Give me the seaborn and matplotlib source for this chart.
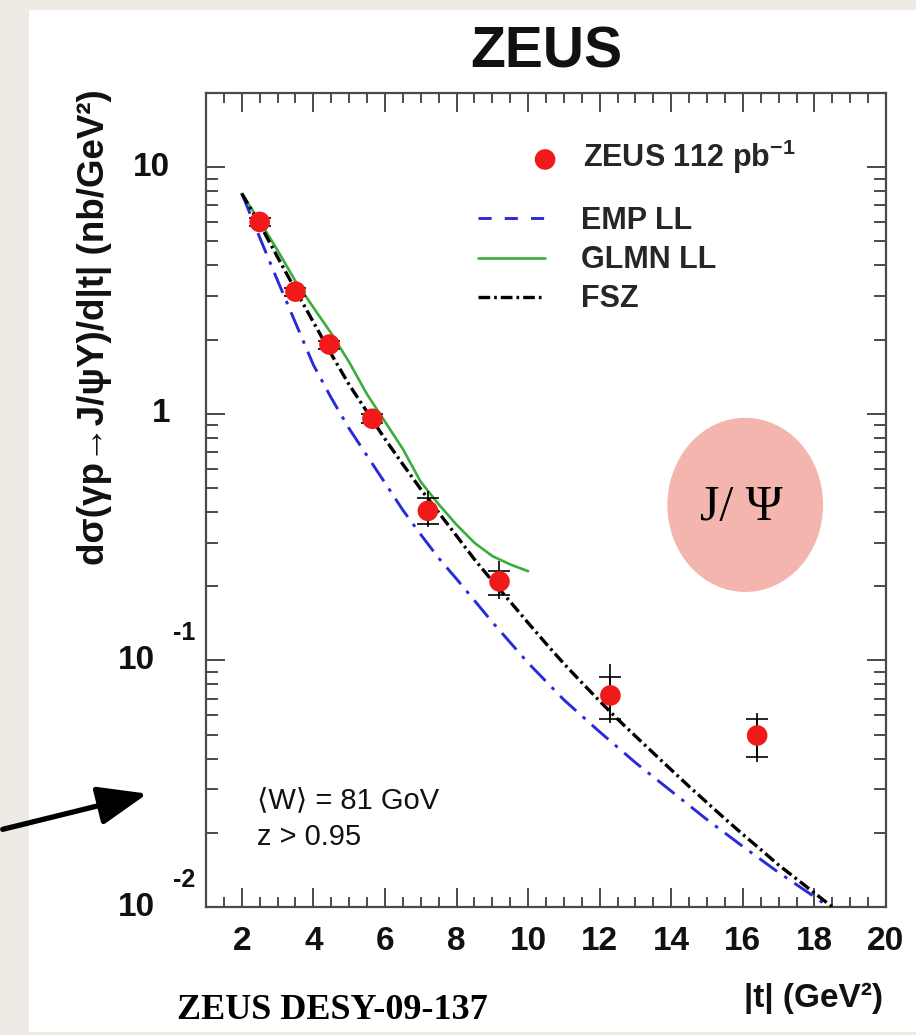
import numpy as np
import matplotlib
matplotlib.use("Agg")
import matplotlib.pyplot as plt
import seaborn as sns
from matplotlib.patches import Ellipse, Rectangle, FancyArrowPatch
from matplotlib.lines import Line2D
from matplotlib.ticker import MultipleLocator, LogLocator, NullFormatter
import matplotlib.transforms as mtransforms

# ---------------- data ----------------
t_data = [2.5, 3.5, 4.45, 5.65, 7.2, 9.2, 12.3, 16.4]
xsec_data = [6.0, 3.13, 1.91, 0.955, 0.404, 0.209, 0.0721, 0.0496]
stat_lo = [0.24, 0.12, 0.07, 0.04, 0.047, 0.024, 0.014, 0.0092]
stat_hi = [0.24, 0.12, 0.07, 0.04, 0.052, 0.021, 0.0132, 0.0085]
tot_lo = [0.36, 0.19, 0.11, 0.06, 0.057, 0.031, 0.0166, 0.0108]
tot_hi = [0.36, 0.19, 0.11, 0.06, 0.082, 0.043, 0.0243, 0.0114]

emp_t = [2.0, 2.5, 3.0, 3.5, 4.0, 4.5, 5.0, 5.5, 6.0, 6.5, 7.0, 7.5, 8.0,
         9.0, 10.0, 11.0, 12.0, 13.0, 14.0, 15.0, 16.0, 17.0, 18.0, 18.5]
emp_xsec = [7.83, 5.19, 3.47, 2.34, 1.58, 1.16, 0.871, 0.676, 0.525, 0.407,
            0.324, 0.260, 0.214, 0.143, 0.0977, 0.0692, 0.0513, 0.0385,
            0.0295, 0.0226, 0.0176, 0.0138, 0.0110, 0.00977]

glmn_t = [2.0, 2.5, 3.0, 3.5, 4.0, 4.5, 5.0, 5.5, 6.0, 6.5, 7.0, 7.5, 8.0,
          8.5, 9.0, 9.5, 10.0]
glmn_xsec = [7.8, 6.05, 4.6, 3.45, 2.7, 2.12, 1.62, 1.2, 0.93, 0.72, 0.53,
             0.43, 0.355, 0.30, 0.265, 0.245, 0.23]

fsz_t = [2.0, 2.5, 3.0, 3.5, 4.0, 4.5, 5.0, 5.5, 6.0, 6.5, 7.0, 7.5, 8.0,
         8.5, 9.0, 9.5, 10.0, 10.5, 11.0, 11.5, 12.0, 12.5, 13.0, 13.5,
         14.0, 14.5, 15.0, 15.5, 16.0, 16.5, 17.0, 17.5, 18.0, 18.5]
fsz_xsec = [7.83, 5.89, 4.32, 3.18, 2.355, 1.746, 1.312, 1.018, 0.791, 0.624,
            0.495, 0.398, 0.320, 0.257, 0.210, 0.173, 0.142, 0.117, 0.0970,
            0.0813, 0.0684, 0.0578, 0.0493, 0.0421, 0.0360, 0.0308, 0.0265,
            0.0228, 0.0197, 0.0171, 0.0148, 0.0130, 0.0114, 0.0100]

xticks = [2, 4, 6, 8, 10, 12, 14, 16, 18, 20]
ytick_vals = [0.01, 0.1, 1, 10]
ytick_base = ["10", "10", "1", "10"]
ytick_exp = ["-2", "-1", "", ""]

legend_labels = ["ZEUS 112 pb$^{-1}$", "EMP LL", "GLMN LL", "FSZ"]

# ---------------- style ----------------
sns.set_theme(style="ticks")
plt.rcParams['font.family'] = ['Liberation Sans', 'DejaVu Sans']
plt.rcParams['mathtext.fontset'] = 'custom'
plt.rcParams['mathtext.rm'] = 'Liberation Sans:bold'
plt.rcParams['mathtext.bf'] = 'Liberation Sans:bold'
plt.rcParams['mathtext.it'] = 'Liberation Sans:bold'

W, H = 916, 1035
fig = plt.figure(figsize=(W / 100, H / 100), dpi=100, facecolor='#eeeae4')
fig.add_artist(Rectangle((29 / W, 1 - 1032 / H), 1 - 29 / W, (1032 - 10) / H,
                         transform=fig.transFigure, facecolor='white',
                         edgecolor='none', zorder=0))

ax = fig.add_axes([206 / W, 1 - 907 / H, 680 / W, 814 / H])
ax.set_yscale('log')
ax.set_xlim(1, 20)
ax.set_ylim(0.01, 20)

blue = '#2a2ad8'
green = '#3aad3a'
red = '#f01a1a'

sns.lineplot(x=emp_t, y=emp_xsec, ax=ax, color=blue, linewidth=2.1,
             linestyle=(0, (7.5, 3, 1.2, 3)), zorder=2)
sns.lineplot(x=glmn_t, y=glmn_xsec, ax=ax, color=green, linewidth=1.9,
             linestyle='-', zorder=2)
sns.lineplot(x=fsz_t, y=fsz_xsec, ax=ax, color='black', linewidth=2.4,
             linestyle=(0, (3.5, 1.2, 0.8, 1.2)), zorder=3)
emp_line, glmn_line, fsz_line = ax.lines[0], ax.lines[1], ax.lines[2]

ax.errorbar(t_data, xsec_data, yerr=[tot_lo, tot_hi], fmt='none',
            ecolor='black', elinewidth=1.2, capsize=0, zorder=4)
ax.errorbar(t_data, xsec_data, yerr=[stat_lo, stat_hi], fmt='none',
            ecolor='black', elinewidth=1.2, capsize=8, capthick=1.2, zorder=4)
sns.scatterplot(x=t_data, y=xsec_data, ax=ax, color=red, s=220,
                edgecolor='none', linewidth=0, zorder=5, legend=False)
zeus_pts = ax.collections[-1]

# ---------------- axes / ticks ----------------
for sp in ax.spines.values():
    sp.set_color('#4a4a4a')
    sp.set_linewidth(1.6)

ax.xaxis.set_minor_locator(MultipleLocator(0.5))
ax.set_xticks(xticks)
ax.set_xticklabels([str(v) for v in xticks])
ax.set_yticks(ytick_vals)
ax.yaxis.set_minor_locator(LogLocator(base=10, subs=np.arange(2, 10)))
ax.yaxis.set_minor_formatter(NullFormatter())
ax.set_yticklabels([])

ax.tick_params(which='both', direction='in', top=True, right=True,
               color='#4a4a4a', width=1.4)
ax.tick_params(which='major', length=14)
ax.tick_params(axis='x', which='minor', length=7)
ax.tick_params(axis='y', which='minor', length=8.5)
ax.tick_params(axis='x', which='major', labelsize=24, pad=14)
for lab in ax.get_xticklabels():
    lab.set_fontweight('bold')
    lab.set_color('#111111')

trans = mtransforms.blended_transform_factory(ax.transAxes, ax.transData)
trans_up = mtransforms.offset_copy(trans, fig=fig, y=27, units='dots')
for val, base, exp in zip(ytick_vals, ytick_base, ytick_exp):
    if exp:
        ax.text(-0.075, val, base, transform=trans, ha='right', va='center',
                fontsize=24, fontweight='bold', color='#111111')
        ax.text(-0.049, val, exp, transform=trans_up, ha='left', va='center',
                fontsize=18, fontweight='bold', color='#111111')
    else:
        ax.text(-0.053, val, base, transform=trans, ha='right', va='center',
                fontsize=24, fontweight='bold', color='#111111')

ax.set_title('ZEUS', fontsize=41, fontweight='bold', pad=18, color='#111111')

ax.set_ylabel('dσ(γp→J/ψY)/d|t| (nb/GeV²)', fontsize=26.5, fontweight='bold',
              loc='top', color='#111111')
ax.yaxis.set_label_coords(-0.138, 1.004)
ax.set_xlabel('|t| (GeV²)', fontsize=24, fontweight='bold', loc='right',
              color='#111111')
ax.xaxis.set_label_coords(0.996, -0.093)

# ---------------- legends ----------------
emp_proxy = Line2D([], [], color=blue, linewidth=2.1, linestyle=(0, (4.5, 4.5)))
leg2 = ax.legend(handles=[emp_proxy, glmn_line, fsz_line],
                 labels=legend_labels[1:], loc='upper left',
                 bbox_to_anchor=(0.40, 0.861), frameon=False,
                 prop={'weight': 'bold', 'size': 22}, handlelength=2.19,
                 handletextpad=1.18, labelspacing=0.30, borderpad=0,
                 borderaxespad=0)
ax.add_artist(leg2)
leg1 = ax.legend(handles=[zeus_pts], labels=legend_labels[:1],
                 loc='upper left', bbox_to_anchor=(0.484, 0.9445),
                 frameon=False, prop={'weight': 'bold', 'size': 22},
                 handlelength=0.65, handletextpad=0.92, borderpad=0,
                 borderaxespad=0, scatterpoints=1)

# ---------------- annotations ----------------
ax.text(0.075, 0.1216, '⟨W⟩ = 81 GoV', transform=ax.transAxes, fontsize=21,
        va='baseline', ha='left', color='#111111')
ax.text(0.075, 0.0762, 'z > 0.95', transform=ax.transAxes, fontsize=21,
        va='baseline', ha='left', color='#111111')

ax.add_patch(Ellipse((0.793, 0.494), 0.229, 0.214, transform=ax.transAxes,
                     facecolor='#f4b5ae', edgecolor='none', zorder=1))
ax.text(0.787, 0.49, 'J/ Ψ', transform=ax.transAxes, fontsize=36,
        family='Liberation Serif', ha='center', va='center', color='black',
        zorder=6)

fig.text(177 / W, 1 - 1019 / H, 'ZEUS DESY-09-137', family='Liberation Serif',
         fontweight='bold', fontsize=26, ha='left', va='baseline', color='black')

arrow = FancyArrowPatch((0.0, 1 - 830 / H), (150 / W, 1 - 793 / H),
                        transform=fig.transFigure,
                        arrowstyle='-|>,head_length=1.4,head_width=0.55',
                        mutation_scale=21.6, color='black', linewidth=3.8)
fig.add_artist(arrow)

fig.savefig('out.png', dpi=100, facecolor=fig.get_facecolor())
